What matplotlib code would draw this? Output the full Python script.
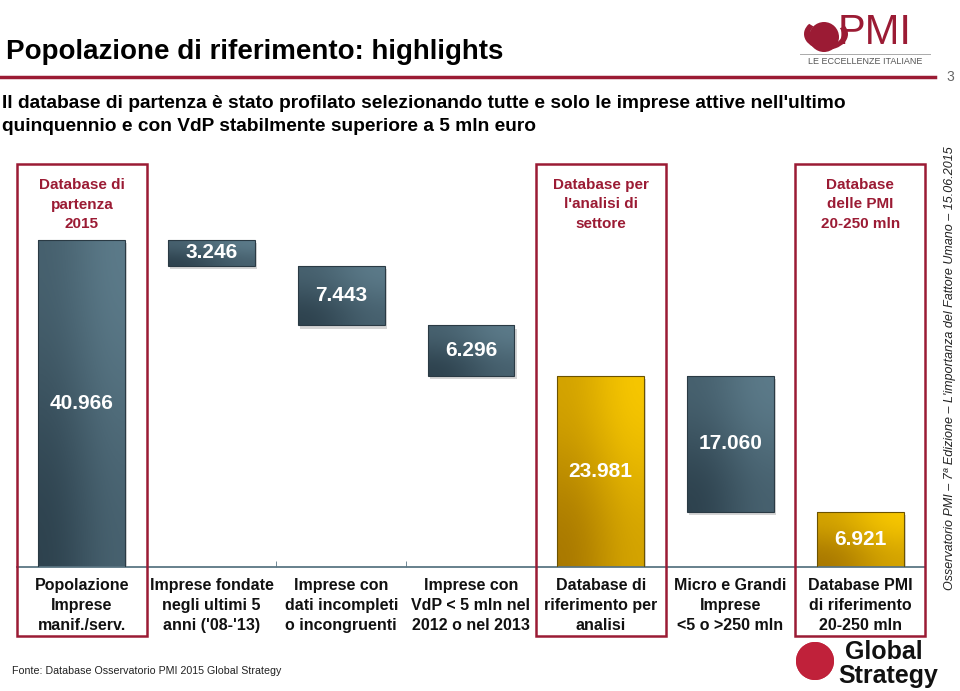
import numpy as np
import matplotlib
matplotlib.use("Agg")
import matplotlib.pyplot as plt
import matplotlib.transforms as mtransforms
from matplotlib.patches import Rectangle, Ellipse, Wedge

# data
categories = ["Popolazione\nImprese\nmanif./serv.",
              "Imprese fondate\nnegli ultimi 5\nanni ('08-'13)",
              "Imprese con\ndati incompleti\no incongruenti",
              "Imprese con\nVdP < 5 mln nel\n2012 o nel 2013",
              "Database di\nriferimento per\nanalisi",
              "Micro e Grandi\nImprese\n<5 o >250 mln",
              "Database PMI\ndi riferimento\n20-250 mln"]
values = [40966, 3246, 7443, 6296, 23981, 17060, 6921]
step_type = ["total", "down", "down", "down", "total", "down", "total"]
highlight = [False, False, False, False, True, False, True]
box_idx = [0, 4, 6]
box_titles = ["Database di\npartenza\n2015", "Database per\nl'analisi di\nsettore", "Database\ndelle PMI\n20-250 mln"]

title = "Popolazione di riferimento: highlights"
subtitle = ("Il database di partenza è stato profilato selezionando tutte e solo le imprese attive nell'ultimo\n"
            "quinquennio e con VdP stabilmente superiore a 5 mln euro")
source = "Fonte: Database Osservatorio PMI 2015 Global Strategy"
side_note = "Osservatorio PMI – 7ª Edizione – L'importanza del Fattore Umano – 15.06.2015"

RED = "#9b1b34"
NARROW = ["Liberation Sans Narrow", "Liberation Sans", "DejaVu Sans"]
SANS = ["Liberation Sans", "DejaVu Sans"]

W, H = 960, 691
def fx(px):
    return px / W
def fy(px):
    return 1 - px / H

# waterfall bottoms
bottoms = []
level = 0
for v, t in zip(values, step_type):
    if t == "total":
        bottoms.append(0)
        level = v
    else:
        level = level - v
        bottoms.append(level)

fig = plt.figure(figsize=(9.6, 6.91), dpi=100)
scale = (567 - 240) / 40966.0
ytop = 45000
ax = fig.add_axes([fx(17), fy(567), 908 / W, ytop * scale / H])

n = len(values)
bw = 0.67
grad = np.array([[0.55, 1.0], [0.0, 0.55]])
blue_cmap = matplotlib.colors.LinearSegmentedColormap.from_list("b", ["#2c404c", "#5d7c8b"])
gold_cmap = matplotlib.colors.LinearSegmentedColormap.from_list("g", ["#a67600", "#f9c900"])
shadow_tr = mtransforms.offset_copy(ax.transData, fig=fig, x=1.5, y=-2.5, units="points")

for i, (v, b) in enumerate(zip(values, bottoms)):
    x0 = i - bw / 2
    sh = Rectangle((x0, b), bw, v, transform=shadow_tr, facecolor="#888888", alpha=0.35,
                   edgecolor="none", zorder=1)
    ax.add_patch(sh)
    rect = Rectangle((x0, b), bw, v, facecolor="none", edgecolor="#2a3a44" if not highlight[i] else "#6b5200",
                     linewidth=0.8, zorder=3)
    ax.add_patch(rect)
    cmap = gold_cmap if highlight[i] else blue_cmap
    im = ax.imshow(grad, cmap=cmap, extent=(x0, x0 + bw, b, b + v), aspect="auto",
                   interpolation="bicubic", origin="upper", zorder=2, vmin=0, vmax=1)
    im.set_clip_path(rect)
    lab = f"{v:,}".replace(",", ".")
    ax.text(i, b + v / 2, lab, ha="center", va="center", color="white", fontsize=15,
            fontweight="bold", family=SANS, zorder=4)

ax.set_xlim(-0.5, n - 0.5)
ax.set_ylim(0, ytop)
for s in ["top", "right", "left"]:
    ax.spines[s].set_visible(False)
ax.spines["bottom"].set_color("#5b7684")
ax.spines["bottom"].set_linewidth(1.3)
ax.set_yticks([])
ax.set_xticks([])
ax.set_xticks(np.arange(-0.5, n, 1.0), minor=True)
ax.tick_params(axis="x", which="minor", direction="in", length=4, color="#5b7684", labelbottom=False)
ax.patch.set_alpha(0)

# category labels and highlight boxes
bt = mtransforms.blended_transform_factory(ax.transData, fig.transFigure)
for i, c in enumerate(categories):
    ax.text(i, fy(578), c, transform=bt, ha="center", va="top", fontsize=11.5, fontweight="bold",
            family=NARROW, linespacing=1.4, color="#111111")

for k, i in enumerate(box_idx):
    box = Rectangle((i - 0.5, fy(636)), 1.0, fy(164) - fy(636), transform=bt, fill=False,
                    edgecolor=RED, linewidth=1.8, clip_on=False, zorder=5)
    ax.add_patch(box)
    ax.text(i, fy(178), box_titles[k], transform=bt, ha="center", va="top", fontsize=11,
            fontweight="bold", color=RED, family=SANS, linespacing=1.5)

# header
fig.text(fx(6), fy(52), title, fontsize=20, fontweight="bold", family=SANS, va="center", ha="left")
fig.add_artist(plt.Line2D([0, fx(935)], [fy(77), fy(77)], color=RED, linewidth=2.5))
fig.text(fx(950), fy(77), "3", fontsize=10, color="#666666", va="center", ha="center", family=SANS)
fig.text(fx(2), fy(115), subtitle, fontsize=13.8, fontweight="bold", family=SANS, va="center",
         ha="left", linespacing=1.4)

# PMI logo
fig.add_artist(Wedge((fx(826), fy(34)), 22 / W, 140, 30, width=6 / W, facecolor=RED,
                     transform=fig.transFigure))
fig.add_artist(Ellipse((fx(824), fy(37)), 30 / W, 30 / H, facecolor=RED, transform=fig.transFigure))
fig.text(fx(838), fy(33), "PMI", fontsize=30, color=RED, family=SANS, va="center", ha="left")
fig.add_artist(plt.Line2D([fx(800), fx(930)], [fy(54), fy(54)], color="#aaaaaa", linewidth=0.7))
fig.text(fx(865), fy(62), "LE ECCELLENZE ITALIANE", fontsize=6.5, color="#555555", family=SANS,
         va="center", ha="center")

# side note
fig.text(fx(950), fy(368), side_note, rotation=90, fontsize=9, style="italic", color="#222222",
         family=SANS, va="center", ha="center")

# source
fig.text(fx(12), fy(671), source, fontsize=7.7, family=SANS, color="#222222", va="center", ha="left")

# Global Strategy logo
fig.add_artist(Ellipse((fx(815), fy(661)), 38 / W, 38 / H, facecolor="#c0213a", transform=fig.transFigure))
fig.add_artist(Ellipse((fx(815), fy(661)), 38 / W, 38 / H, facecolor="#c0213a", transform=fig.transFigure))
fig.text(fx(845), fy(652), "Global", fontsize=18, fontweight="bold", family=NARROW, color="#111111",
         va="center", ha="left")
fig.text(fx(838), fy(676), "Strategy", fontsize=18, fontweight="bold", family=NARROW, color="#111111",
         va="center", ha="left")

fig.savefig("out.png", dpi=100)
